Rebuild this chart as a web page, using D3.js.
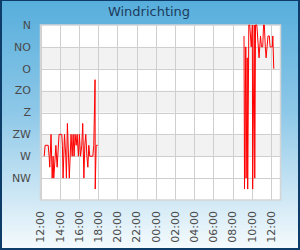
<!DOCTYPE html>
<html>
<head>
<meta charset="utf-8">
<script src="https://cdn.jsdelivr.net/npm/d3@7"></script>
<style>
  html, body { margin: 0; padding: 0; background: #fff; }
  svg { display: block; font-family: "DejaVu Sans", sans-serif; }
</style>
</head>
<body>
<div id="chart"></div>
<script>
// wind direction labels (degrees, N at the top)
const dirLabels = ['N', 'NO', 'O', 'ZO', 'Z', 'ZW', 'W', 'NW'];
const dirDegrees = [0, 45, 90, 135, 180, 225, 270, 315];
const bandStarts = [45, 135, 225]; // shaded rows

const startTime = '2024-06-01 12:00';
const endTime = '2024-06-02 13:00';

const times = [
  '2024-06-01 12:23', '2024-06-01 12:29', '2024-06-01 12:48', '2024-06-01 12:54', '2024-06-01 12:58',
  '2024-06-01 13:06', '2024-06-01 13:13', '2024-06-01 13:19', '2024-06-01 13:23', '2024-06-01 13:32',
  '2024-06-01 13:36', '2024-06-01 13:44', '2024-06-01 13:56', '2024-06-01 14:13', '2024-06-01 14:17',
  '2024-06-01 14:21', '2024-06-01 14:30', '2024-06-01 14:34', '2024-06-01 14:38', '2024-06-01 14:42',
  '2024-06-01 14:48', '2024-06-01 15:00', '2024-06-01 15:11', '2024-06-01 15:18', '2024-06-01 15:24',
  '2024-06-01 15:30', '2024-06-01 15:36', '2024-06-01 15:43', '2024-06-01 15:49', '2024-06-01 15:57',
  '2024-06-01 16:03', '2024-06-01 16:10', '2024-06-01 16:18', '2024-06-01 16:24', '2024-06-01 16:31',
  '2024-06-01 16:37', '2024-06-01 16:43', '2024-06-01 16:50', '2024-06-01 16:56', '2024-06-01 17:02',
  '2024-06-01 17:08', '2024-06-01 17:27', '2024-06-01 17:33', '2024-06-01 17:41', '2024-06-01 17:42',
  '2024-06-01 17:48', '2024-06-01 17:54', '2024-06-01 17:58',
  '2024-06-02 09:12', '2024-06-02 09:15', '2024-06-02 09:23', '2024-06-02 09:25', '2024-06-02 09:32',
  '2024-06-02 09:35', '2024-06-02 09:42', '2024-06-02 09:48', '2024-06-02 09:57', '2024-06-02 10:04',
  '2024-06-02 10:06', '2024-06-02 10:16', '2024-06-02 10:19', '2024-06-02 10:24', '2024-06-02 10:32',
  '2024-06-02 10:46', '2024-06-02 10:55', '2024-06-02 11:01', '2024-06-02 11:09', '2024-06-02 11:14',
  '2024-06-02 11:19', '2024-06-02 11:25', '2024-06-02 11:30', '2024-06-02 11:36', '2024-06-02 11:42',
  '2024-06-02 11:50', '2024-06-02 11:55', '2024-06-02 12:09', '2024-06-02 12:12', '2024-06-02 12:18'
];
const directions = [
  270, 247.5, 247.5, 270, 292.5,
  225, 315, 270, 315, 270,
  247.5, 292.5, 225, 225, 247.5,
  315, 225, 247.5, 270, 315,
  202.5, 315, 225, 270, 225,
  270, 225, 247.5, 225, 270,
  225, 270, 247.5, 202.5, 315,
  247.5, 225, 270, 292.5, 247.5,
  270, 270, 247.5, 112.5, 337.5,
  247.5, 247.5, 247.5,
  22.5, 337.5, 45, 315, 67.5,
  337.5, 0, 0, 45, 0,
  337.5, 0, 315, 0, 0,
  67.5, 22.5, 45, 45, 0,
  0, 45, 67.5, 45, 22.5,
  22.5, 45, 45, 22.5, 90
];

const width = 300;
const height = 250;
const margin = { top: 25, right: 19.5, bottom: 50, left: 40.5 };

const parse = d3.timeParse('%Y-%m-%d %H:%M');
const data = times.map((t, i) => ({ time: parse(t), dir: directions[i] }));

const svg = d3.select('#chart')
  .append('svg')
  .attr('width', width)
  .attr('height', height);

// background gradient
const grad = svg.append('defs').append('linearGradient')
  .attr('id', 'bg')
  .attr('x1', 0).attr('y1', 0).attr('x2', 0).attr('y2', 1);
grad.append('stop').attr('offset', '0%').attr('stop-color', '#56aedc');
grad.append('stop').attr('offset', '45%').attr('stop-color', '#8ec8e8');
grad.append('stop').attr('offset', '100%').attr('stop-color', '#f6fbfd');

svg.append('rect')
  .attr('width', width)
  .attr('height', height)
  .attr('fill', 'url(#bg)');

svg.append('rect')
  .attr('x', 1).attr('y', 0)
  .attr('width', width - 2).attr('height', height - 1)
  .attr('fill', 'none')
  .attr('stroke', '#0e3c68')
  .attr('stroke-width', 2);

svg.append('text')
  .attr('x', 149)
  .attr('y', 15.5)
  .attr('text-anchor', 'middle')
  .style('font-size', '13px')
  .style('fill', '#1c3b5c')
  .text('Windrichting');

const x = d3.scaleTime()
  .domain([parse(startTime), parse(endTime)])
  .range([margin.left, width - margin.right]);

const y = d3.scaleLinear()
  .domain([0, 360])
  .range([margin.top, height - margin.bottom]);

// plot area
svg.append('rect')
  .attr('x', margin.left).attr('y', margin.top)
  .attr('width', width - margin.left - margin.right)
  .attr('height', height - margin.top - margin.bottom)
  .attr('fill', '#fff');

svg.append('g')
  .selectAll('rect')
  .data(bandStarts)
  .enter()
  .append('rect')
  .attr('x', margin.left)
  .attr('y', d => y(d))
  .attr('width', width - margin.left - margin.right)
  .attr('height', d => y(d + 45) - y(d))
  .attr('fill', '#f2f2f2');

const xTicks = x.ticks(d3.timeHour.every(2));

// gridlines
svg.append('g')
  .selectAll('line')
  .data(xTicks)
  .enter()
  .append('line')
  .attr('x1', d => Math.round(x(d)) + 0.5)
  .attr('x2', d => Math.round(x(d)) + 0.5)
  .attr('y1', margin.top)
  .attr('y2', height - margin.bottom)
  .attr('stroke', '#cfcfcf');

svg.append('g')
  .selectAll('line')
  .data(dirDegrees.slice(1))
  .enter()
  .append('line')
  .attr('x1', margin.left)
  .attr('x2', width - margin.right)
  .attr('y1', d => Math.round(y(d)) + 0.5)
  .attr('y2', d => Math.round(y(d)) + 0.5)
  .attr('stroke', '#cfcfcf');

svg.append('rect')
  .attr('x', margin.left).attr('y', margin.top)
  .attr('width', width - margin.left - margin.right)
  .attr('height', height - margin.top - margin.bottom)
  .attr('fill', 'none')
  .attr('stroke', '#d4d4d4')
  .attr('stroke-width', 1.5);

// y labels
svg.append('g')
  .selectAll('text')
  .data(dirDegrees)
  .enter()
  .append('text')
  .attr('x', 31)
  .attr('y', d => y(d))
  .attr('dy', '0.35em')
  .attr('text-anchor', 'end')
  .style('font-size', '11px')
  .style('fill', '#4a4a4a')
  .text((d, i) => dirLabels[i]);

// x labels, rotated
const fmt = d3.timeFormat('%H:%M');
svg.append('g')
  .selectAll('text')
  .data(xTicks)
  .enter()
  .append('text')
  .attr('transform', d => `translate(${x(d)}, 211) rotate(-90)`)
  .attr('dy', '0.35em')
  .attr('text-anchor', 'end')
  .style('font-size', '11px')
  .style('fill', '#4a4a4a')
  .text(d => fmt(d));

// split into runs where there is a gap of more than an hour
const line = d3.line()
  .x(d => x(d.time))
  .y(d => y(d.dir))
  .defined((d, i) => true);

const runs = [];
let run = [];
data.forEach((d, i) => {
  if (i > 0 && d.time - data[i - 1].time > 3600e3) {
    runs.push(run);
    run = [];
  }
  run.push(d);
});
runs.push(run);

svg.append('g')
  .selectAll('path')
  .data(runs)
  .enter()
  .append('path')
  .attr('d', line)
  .attr('fill', 'none')
  .attr('stroke', '#ff0000')
  .attr('stroke-width', 1);
</script>
</body>
</html>
